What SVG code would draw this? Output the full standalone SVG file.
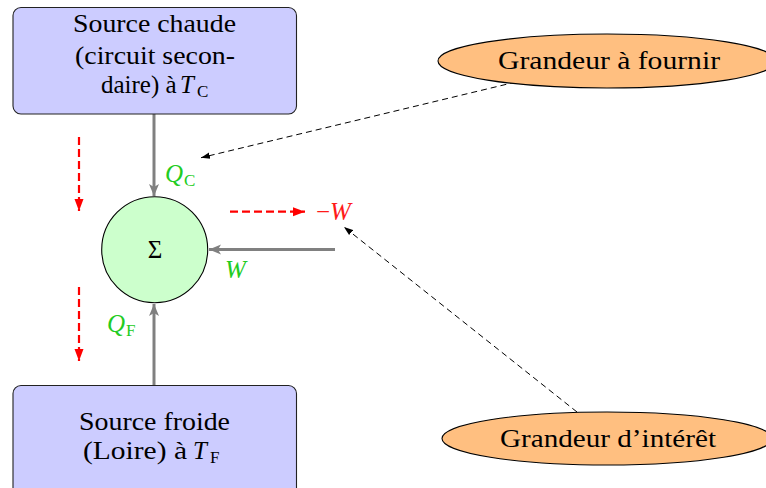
<svg xmlns="http://www.w3.org/2000/svg" width="766" height="488" viewBox="0 0 766 488">
<defs>
<style>
text{font-family:'Liberation Serif','DejaVu Serif',serif;font-size:25px;fill:#000}
.m{font-style:italic}
.s{font-size:17px;font-style:normal}
.box{fill:#ccccff;stroke:#222;stroke-width:1.1}
.ell{fill:#ffbf80;stroke:#000;stroke-width:1.1}
.gr{stroke:#808080;stroke-width:3;fill:none}
.rd{stroke:#ff0000;stroke-width:2.2;stroke-dasharray:8 4;fill:none}
.bk{stroke:#000;stroke-width:1;stroke-dasharray:6 4;fill:none}
.green{fill:#22cc22}
.red{fill:#ff1a1a}
</style>
<marker id="ag" markerUnits="userSpaceOnUse" markerWidth="14" markerHeight="12" viewBox="0 0 14 12" refX="12" refY="6" orient="auto">
<path d="M0,1 L12,6 L0,11 L3,6 z" fill="#808080"/>
</marker>
<marker id="ar" markerUnits="userSpaceOnUse" markerWidth="14" markerHeight="12" viewBox="0 0 14 12" refX="12" refY="6" orient="auto">
<path d="M0,1.5 L12,6 L0,10.5 z" fill="#ff0000"/>
</marker>
<marker id="ab" markerUnits="userSpaceOnUse" markerWidth="10" markerHeight="8" viewBox="0 0 10 8" refX="9" refY="4" orient="auto">
<path d="M0,0.8 L9,4 L0,7.2 z" fill="#000"/>
</marker>
</defs>
<rect width="766" height="488" fill="#fff"/>

<g id="connectors">
<line class="gr" x1="154" y1="114" x2="154" y2="196" marker-end="url(#ag)"/>
<line class="gr" x1="154" y1="385" x2="154" y2="304" marker-end="url(#ag)"/>
<line class="gr" x1="335" y1="249.5" x2="209" y2="249.5" marker-end="url(#ag)"/>
<line class="rd" x1="79" y1="137" x2="79" y2="211" marker-end="url(#ar)"/>
<line class="rd" x1="79" y1="287" x2="79" y2="361" marker-end="url(#ar)"/>
<line class="rd" x1="230" y1="211.7" x2="305" y2="211.7" marker-end="url(#ar)"/>
<line class="bk" x1="516" y1="82" x2="201" y2="157.7" marker-end="url(#ab)"/>
<line class="bk" x1="577" y1="412" x2="344" y2="227" marker-end="url(#ab)"/>
</g>

<g id="source-chaude">
<rect class="box" x="13" y="7.5" width="283.5" height="106.5" rx="8"/>
<text x="73" y="32" textLength="163" lengthAdjust="spacingAndGlyphs">Source chaude</text>
<text x="75" y="63.5" textLength="160" lengthAdjust="spacingAndGlyphs">(circuit secon-</text>
<text x="101" y="93">daire) à</text>
<text class="m" x="180" y="93">T</text>
<text class="s" x="197" y="97">C</text>
</g>

<g id="source-froide">
<rect class="box" x="13" y="385.5" width="283.5" height="112" rx="8"/>
<text x="79" y="430" textLength="151" lengthAdjust="spacingAndGlyphs">Source froide</text>
<text x="83" y="458.5" textLength="104" lengthAdjust="spacingAndGlyphs">(Loire) à</text>
<text class="m" x="193" y="458.5">T</text>
<text class="s" x="210" y="462.5">F</text>
</g>

<g id="sigma">
<circle cx="154.7" cy="249.7" r="53" fill="#ccffcc" stroke="#000" stroke-width="1.1"/>
<text x="155" y="258" text-anchor="middle">Σ</text>
</g>

<g id="labels">
<text class="m green" x="165" y="182">Q</text>
<text class="s green" x="184" y="186">C</text>
<text class="m green" x="107" y="332">Q</text>
<text class="s green" x="126" y="336">F</text>
<text class="m green" x="225" y="278">W</text>
<text class="red" x="316" y="220">−<tspan class="m">W</tspan></text>
</g>

<g id="grandeur-fournir">
<ellipse class="ell" cx="607" cy="61" rx="169" ry="27"/>
<text x="498" y="68.5" textLength="222" lengthAdjust="spacingAndGlyphs">Grandeur à fournir</text>
</g>

<g id="grandeur-interet">
<ellipse class="ell" cx="607" cy="438.5" rx="165" ry="26.5"/>
<text x="500" y="447" textLength="216" lengthAdjust="spacingAndGlyphs">Grandeur d’intérêt</text>
</g>
</svg>
